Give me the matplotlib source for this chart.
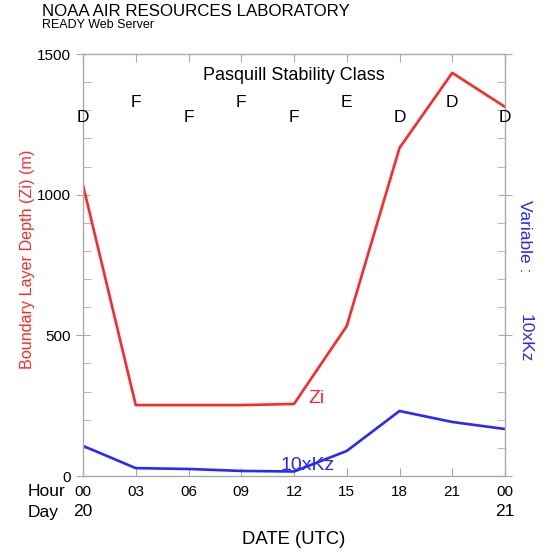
import numpy as np
import matplotlib.pyplot as plt
from matplotlib.ticker import MultipleLocator

plt.rcParams['font.family'] = ['Liberation Sans', 'DejaVu Sans']

hours = [0, 3, 6, 9, 12, 15, 18, 21, 24]
hour_labels = ['00', '03', '06', '09', '12', '15', '18', '21', '00']
zi = [1034, 252, 252, 252, 256, 533, 1166, 1433, 1312]
kz10 = [107, 28, 25, 18, 16, 89, 231, 192, 167]
stability = ['D', 'F', 'F', 'F', 'F', 'E', 'D', 'D', 'D']

fig = plt.figure(figsize=(5.51, 5.56), dpi=100)
ax = fig.add_axes([83 / 551, 80 / 556, 422 / 551, 422 / 556])

ax.plot(hours, zi, color='#ff2828', lw=1.9)
ax.plot(hours, kz10, color='#2828ff', lw=1.9)
ax.set_xlim(0, 24)
ax.set_ylim(0, 1500)

for s in ax.spines.values():
    s.set_color('#aaaaaa')
    s.set_linewidth(1)

ax.set_xticks(hours)
ax.set_xticklabels([])
ax.set_yticks([0, 500, 1000, 1500])
ax.yaxis.set_minor_locator(MultipleLocator(100))
ax.tick_params(which='both', direction='in', color='#aaaaaa', top=True, right=True,
               labelsize=11, pad=4)
ax.tick_params(which='major', length=6)
ax.tick_params(which='minor', length=6)
ax.tick_params(axis='y', which='major', direction='inout', length=10)

fs = 12.5
tr = ax.get_xaxis_transform()
for h, lab in zip(hours, hour_labels):
    ax.text(h, -0.022, lab, transform=tr, ha='center', va='top', fontsize=11)
fig.text(28 / 551, 1 - 492 / 556, 'Hour', ha='left', va='center', fontsize=fs)
fig.text(28 / 551, 1 - 512 / 556, 'Day', ha='left', va='center', fontsize=fs)
fig.text(83 / 551, 1 - 512 / 556, '20', ha='center', va='center', fontsize=fs)
fig.text(505 / 551, 1 - 512 / 556, '21', ha='center', va='center', fontsize=fs)
fig.text(294 / 551, 1 - 540 / 556, 'DATE (UTC)', ha='center', va='center', fontsize=13.3)

# Pasquill stability classes
for i, (h, c) in enumerate(zip(hours, stability)):
    y = 1273 if i % 2 == 0 else 1326
    ax.text(h, y, c, ha='center', va='center', fontsize=fs)
ax.text(12, 1422, 'Pasquill Stability Class', ha='center', va='center', fontsize=13)

ax.text(13.3, 277, 'Zi', color='#ff2828', ha='center', va='center', fontsize=14)
ax.text(12.8, 38, '10xKz', color='#2828ff', ha='center', va='center', fontsize=14)

fig.text(28 / 551, 1 - 259 / 556, 'Boundary Layer Depth (Zi) (m)', color='#ff2828',
         rotation=90, ha='center', va='center', fontsize=11.6)
fig.text(525 / 551, 1 - 236 / 556, 'Variable :', color='#2828ff',
         rotation=-90, ha='center', va='center', fontsize=fs)
fig.text(525 / 551, 1 - 338 / 556, '10xKz', color='#2828ff',
         rotation=-90, ha='center', va='center', fontsize=fs)

fig.text(42 / 551, 1 - 11 / 556, 'NOAA AIR RESOURCES LABORATORY', ha='left', va='center', fontsize=12.2)
fig.text(42 / 551, 1 - 25 / 556, 'READY Web Server', ha='left', va='center', fontsize=9)

fig.savefig('out.png', dpi=100)
